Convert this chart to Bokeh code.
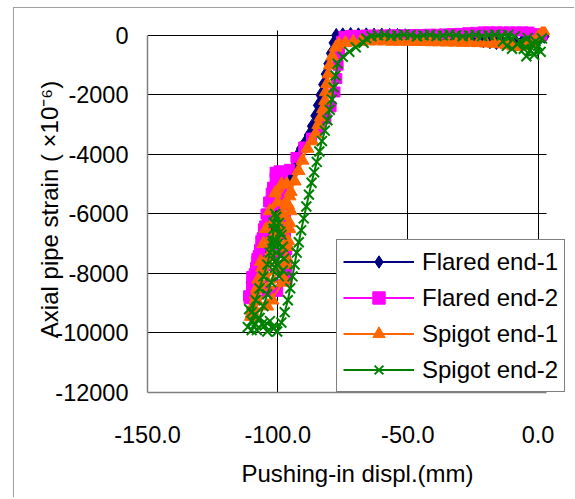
from bokeh.plotting import figure
from bokeh.models import Legend, LegendItem, FixedTicker
from bokeh.embed import file_html
from bokeh.resources import INLINE

# ---------------- data ----------------
x_ticks = [-150, -100, -50, 0]
x_tick_labels = ["-150.0", "-100.0", "-50.0", "0.0"]
y_ticks = [0, -2000, -4000, -6000, -8000, -10000, -12000]
y_tick_labels = ["0", "-2000", "-4000", "-6000", "-8000", "-10000", "-12000"]

series_names = ["Flared end-1", "Flared end-2", "Spigot end-1", "Spigot end-2"]

flared1_x = [2.4, 0.5, -1.5, -3.5, -6, -8.5, -11, -13.5, -16, -18.5, -21, -24, -27, -30, -33, -36,
             -39, -42, -45, -48, -51, -54, -57, -60, -63, -66, -69, -72, -75, -77.5,
             -78.5, -79.5, -80.5, -81.5, -82.5, -83.5, -84.5, -85.5, -86.8, -88, -89.5, -91, -92.5,
             -93.5, -94.5, -95.5, -97, -98.5, -100, -101.5, -103, -104.5, -106, -107.5, -109, -110.3, -111,
             -108, -105, -102, -104.5, -107, -109.5, -110.5, -107.5, -104, -101, -103.5, -106.5, -109,
             -110.8, -108, -105, -102.5]
flared1_y = [-30, -60, -100, -150, -190, -220, -240, -250, -240, -210, -180, -150, -120, -100, -80, -60,
             -50, -40, -30, -20, -10, 0, 0, 10, 10, 20, 20, 30, 20, 0,
             -250, -600, -950, -1300, -1650, -2000, -2350, -2700, -3050, -3350, -3600, -3800, -4050,
             -4400, -4750, -5000, -5300, -5650, -6000, -6350, -6700, -7000, -7300, -7600, -7950, -8300, -8700,
             -8000, -7200, -6300, -6800, -7500, -8200, -8600, -7700, -6800, -5900, -6500, -7300, -8000,
             -8750, -7900, -7100, -6300]

flared2_x = [1.5, -1, -3.5, -6, -8.5, -11, -13.5, -16, -18.5, -21, -24, -27, -30, -33, -36, -39, -42,
             -45, -48, -51, -54, -57, -60, -63, -66, -69, -72, -74.5,
             -75.5, -76.3, -76.8, -77.3, -78, -79.5, -81.5, -84, -87, -90, -93, -95.5,
             -98, -100.5, -103, -105.5, -108, -110, -111.2,
             -104, -96.5, -109.5, -96.5, -108.5, -96.5, -107.5, -97, -106.5, -97, -105.5, -97.5, -104.5,
             -98, -103.5, -98.5, -102, -99.5, -101,
             -102.5, -98, -104, -97.5, -106, -97, -108, -96.5, -110, -100, -111,
             -110, -109, -108, -107, -106, -105, -104, -103, -102, -101]
flared2_y = [0, 60, 120, 150, 170, 170, 160, 150, 140, 130, 110, 90, 70, 60, 50, 40, 40,
             30, 30, 20, 20, 20, 10, 10, 10, 0, 0, -30,
             -200, -600, -1000, -1450, -1900, -2400, -2800, -3150, -3450, -3750, -4100, -4500,
             -5100, -5700, -6300, -6900, -7500, -8100, -8750,
             -8600, -8200, -8300, -7700, -7800, -7200, -7400, -6700, -6900, -6200, -6500, -5700, -6000,
             -5200, -5600, -4800, -5100, -4550, -4600,
             -5300, -5500, -6200, -6400, -7000, -7300, -7800, -8000, -8500, -8600, -8850,
             -8400, -8000, -7600, -7200, -6800, -6400, -6000, -5600, -5200, -4800]

spigot1_x = [2, 0, -2, -4.5, -7, -9.5, -12, -14.5, -17, -20, -23, -26, -29, -32, -35, -38, -41, -44,
             -47, -50, -53, -56, -59, -62, -65, -68, -71, -74, -76.5,
             -77.7, -79, -80, -80.5, -81, -81.5, -81.8, -82.6, -83.5, -84.4, -85.4, -86.8, -88.6, -90.5,
             -92, -93.5, -95, -96.5, -98, -99.5, -101, -102.5, -104, -105.5, -107, -108.5, -109.8,
             -110.3, -104, -98, -108.5, -96.5, -107.5, -96, -106.5, -95.5, -105.5, -95, -104.5, -95.5,
             -103, -96.5, -101, -98.5,
             -100, -96, -102, -95.5, -104, -96, -106, -96.5, -108, -97.5, -109.5, -102, -110]
spigot1_y = [150, -50, -250, -350, -380, -360, -320, -290, -270, -260, -250, -240, -240, -230, -230, -220, -220, -210,
             -210, -200, -200, -200, -190, -190, -190, -200, -220, -250, -300,
             -400, -700, -1000, -1300, -1620, -1900, -2190, -2470, -2750, -3000, -3300, -3550, -3800, -4200,
             -4550, -4900, -5250, -5650, -6050, -6450, -6850, -7250, -7650, -8050, -8450, -8850, -9250,
             -9450, -9100, -8300, -8700, -7700, -8200, -7100, -7600, -6500, -7000, -5900, -6500, -5400,
             -5900, -5000, -5300, -5000,
             -5600, -5700, -6300, -6300, -7000, -6900, -7800, -7500, -8500, -8200, -9100, -8900, -9350]

spigot2_x = [1.5, 0, -1.5, -3, -1, 1, -4.5, -2.5, -5.5, -7, -4, -8, -10, -12, -13.5,
             -9, -11.5, -14, -16.5, -19, -21.5, -24, -26.5, -29, -31.5, -34, -36.5, -39, -41.5, -44,
             -46.5, -49, -51.5, -54, -56.5, -59, -61.5, -64, -66,
             -67, -70, -72.5, -75, -77, -77.8, -78.5, -79.2, -80, -80.9, -81.9, -83, -84, -85, -86, -87,
             -88, -89, -90, -91, -91.9, -92.7, -93.5, -94.3, -95.2, -96.1, -97.3, -98.6, -100.2,
             -102, -104, -106, -108, -110, -111.5, -109, -111, -107, -105, -103, -101.5,
             -110, -108.5, -107, -105.5, -104, -103, -102, -101.5, -101,
             -99.5, -101.5, -98.5, -101, -98, -100.5, -97.5, -100, -98, -99.5, -101, -102, -101.5, -100.5,
             -99, -100, -99, -101, -102.5, -104, -105.5, -107, -108.5, -110]
spigot2_y = [-100, -350, -650, -500, -200, -550, -700, -300, -450, -200, -80, -300, -450, -350, -200,
             -30, 20, 0, 30, 10, -20, 20, 0, -30, 10, 30, 0, -20, 20, 0,
             -30, 10, 30, 0, -20, 20, 0, -30, -100,
             -250, -400, -550, -720, -950, -1350, -1750, -2150, -2500, -2850, -3200, -3550, -3900, -4250, -4600, -4950,
             -5350, -5750, -6150, -6550, -6950, -7300, -7700, -8100, -8500, -8900, -9300, -9650, -9950,
             -9800, -9950, -9700, -9900, -9600, -9800, -9400, -9200, -9500, -9750, -9600, -9850,
             -9300, -8900, -8500, -8100, -7700, -7300, -6900, -6500, -6000,
             -6300, -6500, -6700, -6900, -7100, -7300, -7500, -7700, -7900, -8100, -7600, -7000, -6300, -6100,
             -6600, -7000, -7400, -7800, -8300, -8700, -9100, -9500, -9700, -9900]

series_x = [flared1_x, flared2_x, spigot1_x, spigot2_x]
series_y = [flared1_y, flared2_y, spigot1_y, spigot2_y]
colors = ["#000080", "#FF00FF", "#FF6600", "#008000"]
markers = ["diamond", "square", "triangle", "x"]
marker_sizes = [14, 10, 13, 14]

FONT = "Liberation Sans"

p = figure(frame_width=420, frame_height=366,
           min_border_left=133, min_border_right=7, min_border_top=18, min_border_bottom=105,
           x_range=(-150, 11.3), y_range=(-12000, 300),
           output_backend="svg", toolbar_location=None,
           background_fill_color="white", border_fill_color="white")
p.outline_line_color = None
p.margin = (7, 0, 0, 13)
p.styles = {"border-top": "1px solid #a0a0a0", "border-left": "1px solid #a0a0a0"}

# axes
p.xaxis.ticker = FixedTicker(ticks=x_ticks)
p.xaxis.major_label_overrides = dict(zip(x_ticks, x_tick_labels))
p.xaxis.bounds = (-150, 3.2)
p.yaxis.ticker = FixedTicker(ticks=y_ticks)
p.yaxis.major_label_overrides = dict(zip(y_ticks, y_tick_labels))
p.yaxis.bounds = (-12000, 0)
for ax in (p.xaxis, p.yaxis):
    ax.axis_line_color = "#808080"
    ax.axis_line_width = 1.5
    ax.major_tick_in = 0
    ax.major_tick_out = 0
    ax.minor_tick_line_color = None
    ax.major_label_text_font = FONT
    ax.major_label_text_font_size = "23.5px"
    ax.major_label_text_color = "black"
    ax.axis_label_text_font = FONT
    ax.axis_label_text_font_size = "24px"
    ax.axis_label_text_font_style = "normal"
    ax.axis_label_text_color = "black"
p.xaxis.major_label_standoff = 33
p.yaxis.major_label_standoff = 19
p.xaxis.axis_label = "Pushing-in displ.(mm)"
p.xaxis.axis_label_standoff = 14
p.yaxis.axis_label = "Axial pipe strain ( ×10⁻⁶)"
p.yaxis.axis_label_standoff = -11

# grid
p.xgrid.ticker = FixedTicker(ticks=x_ticks)
p.ygrid.ticker = FixedTicker(ticks=y_ticks)
for g in (p.xgrid, p.ygrid):
    g.grid_line_color = "black"
    g.grid_line_width = 1
try:
    p.ygrid.cross_bounds = (-150, 3.2)
    p.xgrid.cross_bounds = (-12000, 150)
except Exception:
    pass

# series
items = []
for name, xs, ys, c, m, s in zip(series_names, series_x, series_y, colors, markers, marker_sizes):
    lr = p.line(xs, ys, line_color=c, line_width=2)
    if m == "x":
        sr = p.scatter(xs, ys, marker=m, size=s, line_color=c, line_width=2)
    else:
        sr = p.scatter(xs, ys, marker=m, size=s, fill_color=c, line_color=c, line_width=1)
    items.append(LegendItem(label=name, renderers=[lr, sr]))

legend = Legend(items=items, location=(189, 0),
                label_text_font=FONT, label_text_font_size="24px", label_text_color="black",
                glyph_width=71, glyph_height=31, label_height=31, spacing=5, padding=6,
                label_standoff=8, margin=0,
                border_line_color="#000000", border_line_width=1,
                background_fill_color="white", background_fill_alpha=1)
p.add_layout(legend, "center")

open("out.html", "w").write(file_html(p, INLINE))
